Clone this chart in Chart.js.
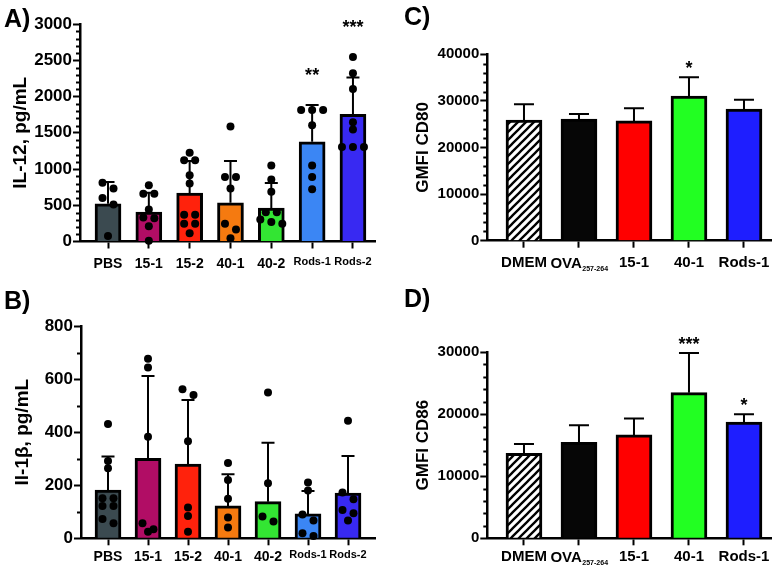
<!DOCTYPE html>
<html lang="en">
<head>
<meta charset="UTF-8">
<title>IL-12, IL-1β and GMFI</title>
<script src="https://cdn.jsdelivr.net/npm/chart.js@4.4.0/dist/chart.umd.min.js"></script>
<style>
  body { margin: 0; background: #fff; font-family: "Liberation Sans", Arial, sans-serif; }
  #wrap { position: relative; width: 784px; height: 578px; overflow: hidden; }
  .panel { position: absolute; width: 392px; height: 289px; }
  .tag { position: absolute; font-weight: bold; font-size: 25px; line-height: 25px; color: #000; }
</style>
</head>
<body>
<div id="wrap">
  <div class="panel" style="left:0;top:0"><canvas id="chartA"></canvas></div>
  <div class="panel" style="left:0;top:289px"><canvas id="chartB"></canvas></div>
  <div class="panel" style="left:392px;top:0"><canvas id="chartC"></canvas></div>
  <div class="panel" style="left:392px;top:289px"><canvas id="chartD"></canvas></div>
  <div class="tag" style="left:4px;top:6px">A)</div>
  <div class="tag" style="left:4px;top:288px">B)</div>
  <div class="tag" style="left:404px;top:4px">C)</div>
  <div class="tag" style="left:404px;top:286px">D)</div>
</div>
<script>
const FONT = "'Liberation Sans', Arial, sans-serif";

// A) IL-12
const groupsAB = ['PBS', '15-1', '15-2', '40-1', '40-2', 'Rods-1', 'Rods-2'];
const il12Mean = [521, 406, 669, 535, 461, 1375, 1754];
const il12Sd = [300, 268, 443, 577, 347, 508, 507];
const il12Dots = [
  [810, 730, 600, 510, 75],
  [775, 660, 660, 440, 330, 320, 210, 10],
  [1225, 1120, 1120, 915, 800, 370, 370, 245, 245, 115],
  [1585, 890, 890, 730, 245, 165, 45],
  [1050, 855, 685, 405, 405, 305, 270, 245],
  [1815, 1815, 1815, 1605, 1050, 890, 720],
  [2545, 2320, 2105, 1645, 1545, 1305, 1305, 1305]
];
const il12Sig = ['', '', '', '', '', '**', '***'];
const il12Ticks = [0, 500, 1000, 1500, 2000, 2500, 3000];

// B) IL-1beta
const il1bMean = [182, 301, 280, 122, 138, 92, 170];
const il1bSd = [126, 311, 241, 119, 222, 86, 140];
const il1bDots = [
  [431, 291, 264, 151, 151, 122, 122, 73, 57],
  [677, 644, 383, 57, 34, 25],
  [562, 540, 366, 116, 84, 25],
  [284, 220, 149, 78, 41],
  [549, 207, 82, 63],
  [210, 180, 90, 67, 19, 9],
  [443, 173, 147, 107, 94, 67]
];
const il1bTicks = [0, 200, 400, 600, 800];

// C) and D) GMFI
const groupsCD = ['DMEM', 'OVA', '15-1', '40-1', 'Rods-1'];
const groupsCDSub = ['', '257-264', '', '', ''];
const cd80Mean = [25900, 26100, 25700, 31050, 28250];
const cd80Sd = [3370, 1070, 2720, 4010, 2000];
const cd80Sig = ['', '', '', '*', ''];
const cd80Ticks = [0, 10000, 20000, 30000, 40000];
const cd86Mean = [13700, 15450, 16650, 23450, 18700];
const cd86Sd = [1500, 2750, 2630, 6390, 1290];
const cd86Sig = ['', '', '', '***', '*'];
const cd86Ticks = [0, 10000, 20000, 30000];

const colorsAB = ['#3b4a50', '#b10d65', '#ff220c', '#f57a10', '#33e533', '#3b86f4', '#3829f2'];

function hatch() {
  const c = document.createElement('canvas');
  c.width = 8; c.height = 8;
  const g = c.getContext('2d');
  g.fillStyle = '#fff'; g.fillRect(0, 0, 8, 8);
  g.strokeStyle = '#000'; g.lineWidth = 2.3;
  g.beginPath();
  g.moveTo(-2, 10); g.lineTo(10, -2);
  g.moveTo(-2, 2); g.lineTo(2, -2);
  g.moveTo(6, 10); g.lineTo(10, 6);
  g.stroke();
  return g.createPattern(c, 'repeat');
}
const colorsCD = [hatch(), '#060606', '#ff0000', '#22ff22', '#1e1eff'];

function extras(o) {
  return {
    id: 'extras',
    afterDatasetDraw(chart, args) {
      if (args.index !== 0) return;
      const { ctx, scales: { x, y } } = chart;
      ctx.save();
      ctx.strokeStyle = '#000';
      ctx.lineWidth = 2;
      o.mean.forEach((m, i) => {
        const px = x.getPixelForValue(i);
        const y0 = y.getPixelForValue(m), y1 = y.getPixelForValue(m + o.sd[i]);
        ctx.beginPath();
        ctx.moveTo(px, y0); ctx.lineTo(px, y1);
        ctx.moveTo(px - o.cap / 2, y1); ctx.lineTo(px + o.cap / 2, y1);
        ctx.stroke();
      });
      ctx.restore();
    },
    afterDraw(chart) {
      const { ctx, chartArea, scales: { x, y } } = chart;
      ctx.save();
      // minor ticks on the y axis
      ctx.strokeStyle = '#000';
      ctx.lineWidth = 2;
      ctx.beginPath();
      const top = o.yTicks[o.yTicks.length - 1];
      for (let v = o.minor; v < top; v += o.minor) {
        if (o.yTicks.includes(v)) continue;
        const py = Math.round(y.getPixelForValue(v)) + 0.5;
        ctx.moveTo(chartArea.left - 4, py);
        ctx.lineTo(chartArea.left, py);
      }
      ctx.stroke();
      // significance stars
      ctx.fillStyle = '#000';
      ctx.textAlign = 'center';
      ctx.textBaseline = 'alphabetic';
      ctx.font = `bold ${o.starFont}px ${FONT}`;
      (o.sig || []).forEach((s, i) => {
        if (!s) return;
        let hi = o.mean[i] + o.sd[i];
        if (o.dots) hi = Math.max(hi, ...o.dots[i]);
        ctx.fillText(s, x.getPixelForValue(i), y.getPixelForValue(hi) - o.starGap);
      });
      // labels with subscript
      (o.sub || []).forEach((sb, i) => {
        if (!sb) return;
        const px = x.getPixelForValue(i);
        const base = chartArea.bottom + 7 + o.xPad + o.xFont * 0.6 + o.xFont * 0.35;
        const f1 = `bold ${o.xFont}px ${FONT}`, f2 = `bold ${o.subFont}px ${FONT}`;
        ctx.font = f1; const w1 = ctx.measureText(o.cats[i]).width;
        ctx.font = f2; const w2 = ctx.measureText(sb).width;
        const x0 = px - (w1 + w2) / 2;
        ctx.textAlign = 'left';
        ctx.font = f1; ctx.fillText(o.cats[i], x0, base);
        ctx.font = f2; ctx.fillText(sb, x0 + w1 + 0.5, base + 3);
      });
      ctx.restore();
    }
  };
}

function panel(id, o) {
  const datasets = [{
    type: 'bar',
    data: o.mean.map((v, i) => ({ x: i, y: v })),
    backgroundColor: o.colors,
    borderColor: '#000',
    borderWidth: 3,
    barThickness: o.barW,
    order: 2
  }];
  if (o.dots) datasets.push({
    type: 'scatter',
    data: o.dots.flatMap((g, i) => g.map(v => ({ x: i, y: v }))),
    backgroundColor: '#000',
    borderWidth: 0,
    pointRadius: 4,
    clip: false,
    order: 1
  });
  const axisLine = { color: '#000', width: 2.5 };
  const tickMarks = { drawOnChartArea: false, offset: false, tickLength: 7, tickWidth: 2, tickColor: '#000' };
  const chart = new Chart(document.getElementById(id), {
    type: 'bar',
    data: { datasets },
    options: {
      responsive: true,
      maintainAspectRatio: false,
      animation: false,
      layout: { padding: { left: 0, top: o.top, right: o.right, bottom: 0 } },
      plugins: { legend: { display: false }, tooltip: { enabled: false } },
      scales: {
        x: {
          type: 'linear', min: o.xMin, max: o.xMax, offset: false,
          afterBuildTicks: s => { s.ticks = o.cats.map((c, i) => ({ value: i })); },
          afterFit: s => { s.height = o.xH; },
          grid: tickMarks,
          border: axisLine,
          ticks: {
            autoSkip: false, maxRotation: 0, padding: o.xPad, color: '#000',
            callback: v => (o.sub && o.sub[v]) ? '' : o.cats[v],
            font: c => ({ family: FONT, weight: 'bold',
              size: (c.tick && o.cats[c.tick.value] && o.cats[c.tick.value].length > 4) ? o.xFontSmall : o.xFont })
          }
        },
        y: {
          min: 0, max: o.yTicks[o.yTicks.length - 1],
          afterBuildTicks: s => { s.ticks = o.yTicks.map(v => ({ value: v })); },
          afterFit: s => { s.width = o.yW; },
          grid: tickMarks,
          border: axisLine,
          ticks: { padding: 1, color: '#000', callback: v => String(v),
            font: { family: FONT, weight: 'bold', size: o.yFont } },
          title: { display: true, text: o.yTitle, color: '#000',
            font: { family: FONT, weight: 'bold', size: o.titleFont },
            padding: { top: o.titlePad, bottom: 0 } }
        }
      }
    },
    plugins: [extras(o)]
  });

  // spread dots sideways where they overlap
  if (o.dots) {
    const xs = chart.scales.x, ys = chart.scales.y;
    const unit = xs.getPixelForValue(1) - xs.getPixelForValue(0);
    const pts = [];
    o.dots.forEach((g, i) => {
      const rows = [];
      g.slice().sort((a, b) => b - a).forEach(v => {
        const p = ys.getPixelForValue(v);
        const r = rows[rows.length - 1];
        if (r && p - r.p < 7) r.v.push(v); else rows.push({ p, v: [v] });
      });
      rows.forEach(r => r.v.forEach((v, k) =>
        pts.push({ x: i + (k - (r.v.length - 1) / 2) * o.dotGap / unit, y: v })));
    });
    chart.data.datasets[1].data = pts;
    chart.update('none');
  }
  return chart;
}

const styleAB = { cats: groupsAB, colors: colorsAB, barW: 26, cap: 13, dotGap: 11,
  xFont: 14, xFontSmall: 11, yFont: 17, titleFont: 19, starFont: 18, starGap: 24, right: 17 };
const styleCD = { cats: groupsCD, sub: groupsCDSub, subFont: 7, colors: colorsCD, barW: 36, cap: 20,
  xFont: 15, xFontSmall: 15, yFont: 15, titleFont: 17, starFont: 18, starGap: 3, right: 12.3,
  yW: 95.3, xMin: -0.667, xMax: 4.504, minor: 2000, titlePad: 21 };

panel('chartA', Object.assign({}, styleAB, {
  mean: il12Mean, sd: il12Sd, dots: il12Dots, sig: il12Sig, yTicks: il12Ticks, minor: 100,
  yTitle: 'IL-12, pg/mL', yW: 80, top: 24, xH: 47.5, xMin: -0.686, xMax: 6.54, xPad: 7, titlePad: 9
}));
panel('chartB', Object.assign({}, styleAB, {
  mean: il1bMean, sd: il1bSd, dots: il1bDots, yTicks: il1bTicks, minor: 100,
  yTitle: 'Il-1β, pg/mL', yW: 81, top: 37, xH: 39.7, xMin: -0.675, xMax: 6.675, xPad: 3, titlePad: 11
}));
panel('chartC', Object.assign({}, styleCD, {
  mean: cd80Mean, sd: cd80Sd, sig: cd80Sig, yTicks: cd80Ticks,
  yTitle: 'GMFI CD80', top: 54.3, xH: 48.3, xPad: 6
}));
panel('chartD', Object.assign({}, styleCD, {
  mean: cd86Mean, sd: cd86Sd, sig: cd86Sig, yTicks: cd86Ticks,
  yTitle: 'GMFI CD86', top: 63, xH: 39.7, xPad: 2.5
}));
</script>
</body>
</html>
